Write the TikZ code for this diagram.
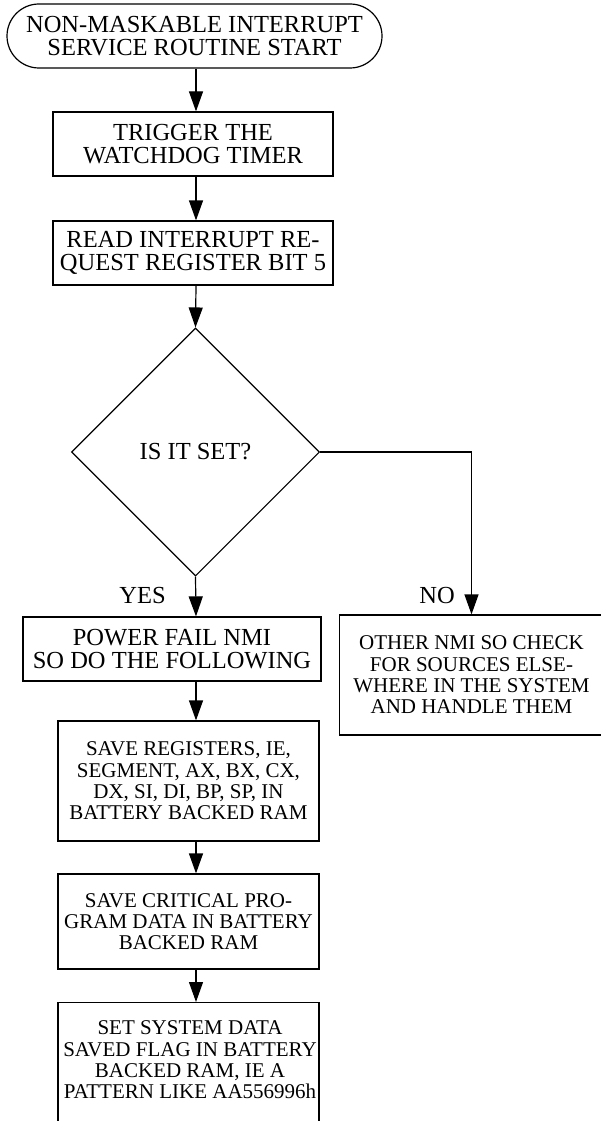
\documentclass[tikz,border=0pt]{standalone}
\usepackage{fontspec}
\setmainfont{Liberation Serif}
\usetikzlibrary{shapes.geometric,shapes.misc,arrows.meta}
\tikzset{
  big/.style={font=\fontsize{24.5}{23}\selectfont},
  small/.style={font=\fontsize{21}{21.3}\selectfont},
  box/.style={draw, line width=1.2pt, rectangle, inner sep=0pt, align=center},
  term/.style={draw, line width=1.2pt, rounded rectangle, inner sep=0pt, align=center},
  dec/.style={draw, line width=1.1pt, diamond, aspect=1, inner sep=0pt, align=center},
  arr/.style={line width=1.2pt, -{Triangle[length=20pt,width=14pt]}},
  lbl/.style={inner sep=0pt, big}
}
\begin{document}
\begin{tikzpicture}[x=1pt,y=-1pt]
\useasboundingbox (0,0) rectangle (601,1121);
\clip (0,0) rectangle (601,1121);
\coordinate (spine) at (196,0);
\node[term, big, minimum width=375, minimum height=64] (start) at (194.5,36)
  {NON-MASKABLE INTERRUPT\\SERVICE ROUTINE START};
\node[box, big, minimum width=280, minimum height=64] (trig) at (193,144)
  {TRIGGER THE\\WATCHDOG TIMER};
\node[box, big, minimum width=280, minimum height=64] (read) at (193,253)
  {READ INTERRUPT RE-\\QUEST REGISTER BIT 5};
\node[dec, big, minimum width=248, minimum height=248] (isset) at (195.5,452)
  {IS IT SET?};
\node[box, big, minimum width=298, minimum height=64] (pfail) at (172,649)
  {POWER FAIL NMI\\SO DO THE FOLLOWING};
\node[box, small, minimum width=264, minimum height=120] (other) at (471.5,675)
  {OTHER NMI SO CHECK\\FOR SOURCES ELSE-\\WHERE IN THE SYSTEM\\AND HANDLE THEM};
\node[box, small, minimum width=261, minimum height=120] (savereg) at (188.5,781)
  {SAVE REGISTERS, IE,\\SEGMENT, AX, BX, CX,\\DX, SI, DI, BP, SP, IN\\BATTERY BACKED RAM};
\node[box, small, minimum width=261, minimum height=95] (savecrit) at (188.5,921.5)
  {SAVE CRITICAL PRO-\\GRAM DATA IN BATTERY\\BACKED RAM};
\node[box, minimum width=261, minimum height=140, anchor=north] (setsys) at (188.5,1002) {};
\node[small, inner sep=0pt, align=center] (setsystxt) at (190,1060)
  {SET SYSTEM DATA\\SAVED FLAG IN BATTERY\\BACKED RAM, IE A\\PATTERN LIKE AA556996h};
\node[lbl] (yes) at (142.6,596) {YES};
\node[lbl] (no) at (437,596) {NO};
\draw[arr] (start.south -| spine) -- (trig.north -| spine);
\draw[arr] (trig.south -| spine) -- (read.north -| spine);
\draw[arr] (read.south -| spine) -- (isset.north);
\draw[arr] (isset.south) -- (pfail.north -| spine);
\draw[arr] (isset.east) -| (other.north);
\draw[arr] (pfail.south -| spine) -- (savereg.north -| spine);
\draw[arr] (savereg.south -| spine) -- (savecrit.north -| spine);
\draw[arr] (savecrit.south -| spine) -- (setsys.north -| spine);
\end{tikzpicture}
\end{document}
